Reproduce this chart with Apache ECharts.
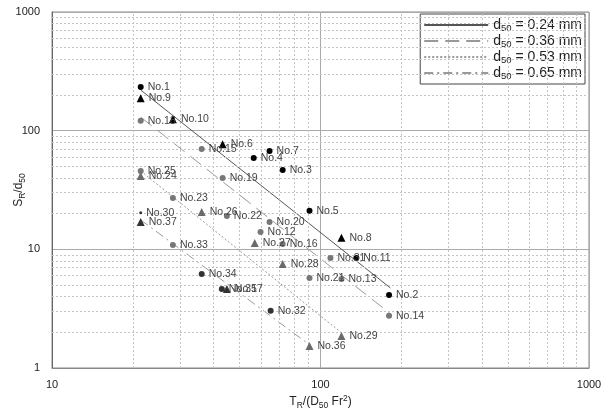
<!DOCTYPE html>
<html>
<head>
<meta charset="utf-8">
<script src="https://cdn.jsdelivr.net/npm/echarts@6/dist/echarts.min.js"></script>
<style>html,body{margin:0;padding:0;background:#fff}#c{width:603px;height:417px}</style>
</head>
<body>
<div id="c"></div>
<script>
// ---- data ----
const blackCircleNames = ['No.1','No.2','No.3','No.4','No.5','No.7','No.11'];
const blackCircleX = [21.4, 180, 72.3, 56.4, 91, 64.6, 136];
const blackCircleY = [233, 4.13, 46.7, 58.9, 21.1, 67.5, 8.47];

const blackTriNames = ['No.6','No.8','No.9','No.10'];
const blackTriX = [43.2, 119.7, 21.4, 28.2];
const blackTriY = [77, 12.5, 188, 125];

const grayCircleNames = ['No.12','No.13','No.14','No.15','No.16','No.18','No.19','No.20','No.21','No.22','No.23','No.25','No.31','No.33'];
const grayCircleX = [59.8, 119.7, 180, 36.1, 72.3, 21.4, 43.2, 64.6, 91, 44.8, 28.2, 21.4, 108.9, 28.2];
const grayCircleY = [14.0, 5.63, 2.75, 70, 11.1, 121, 39.9, 17.0, 5.74, 19.1, 27.1, 45.7, 8.47, 10.9];

const grayTriNames = ['No.24','No.26','No.27','No.28','No.29','No.36'];
const grayTriX = [21.4, 36.1, 56.9, 72.3, 119.7, 91];
const grayTriY = [41.5, 20.6, 11.3, 7.54, 1.86, 1.53];

const darkCircleNames = ['No.32','No.34','No.35'];
const darkCircleX = [65.2, 36.1, 42.9];
const darkCircleY = [3.03, 6.21, 4.63];

const darkTriNames = ['No.17','No.37'];
const darkTriX = [44.8, 21.4];
const darkTriY = [4.63, 17.0];

const dotNames = ['No.30'];
const dotX = [21.4];
const dotY = [20.3];

// fitted lines (end points)
const lineNames = ['0.24', '0.36', '0.53', '0.65'];
const lineX = [[21.4, 182], [21.4, 180.6], [21.4, 119.7], [21.4, 91]];
const lineY = [[220, 4.73], [130, 2.91], [45.7, 1.98], [17.7, 1.57]];

// axis ticks
const xMinorTicks = [20,30,40,50,60,70,80,90,200,300,400,500,600,700,800,900];
const yMinorTicks = [2,3,4,5,6,7,8,9,20,30,40,50,60,70,80,90,200,300,400,500,600,700,800,900];

// ---- chart ----
const chart = echarts.init(document.getElementById('c'), null, {renderer: 'canvas'});
const FONT = "'Liberation Sans', Arial, sans-serif";

function pts(names, xs, ys) {
  return names.map((n, i) => ({name: n, value: [xs[i], ys[i]]}));
}
const labelCfg = {show: true, position: 'right', distance: 4, formatter: '{b}',
  color: '#444', fontSize: 10.5, fontFamily: FONT};

function scatter(name, names, xs, ys, symbol, size, color) {
  return {
    type: 'scatter', name: name, data: pts(names, xs, ys),
    symbol: symbol, symbolSize: size,
    itemStyle: {color: color, opacity: 1},
    label: labelCfg, z: 5, silent: true
  };
}

const lineStyles = [
  {type: 'solid', color: '#555', width: 1},
  {type: [14, 7], color: '#999', width: 1},
  {type: [2, 2], color: '#999', width: 1},
  {type: [9, 4, 2, 4], color: '#999', width: 1}
];

const lineSeries = lineNames.map((n, i) => ({
  type: 'line', name: n,
  data: lineX[i].map((x, j) => [x, lineY[i][j]]),
  symbol: 'none', showSymbol: false,
  lineStyle: lineStyles[i], itemStyle: {color: lineStyles[i].color},
  z: 3, silent: true
}));

const gridSeries = {
  type: 'line', data: [], silent: true, z: 1,
  markLine: {
    silent: true, symbol: ['none', 'none'], label: {show: false},
    lineStyle: {color: '#c4c4c4', type: [2, 2], width: 1},
    animation: false,
    data: xMinorTicks.map(v => ({xAxis: v})).concat(yMinorTicks.map(v => ({yAxis: v})))
  }
};

const subRich = {
  a: {fontSize: 14, fontFamily: FONT, color: '#222', lineHeight: 16},
  s: {fontSize: 9.5, fontFamily: FONT, color: '#222', lineHeight: 16, padding: [6, 0, 0, 0]}
};

const nameRich = {
  a: {fontSize: 12, fontFamily: FONT, color: '#222', lineHeight: 16},
  s: {fontSize: 8.5, fontFamily: FONT, color: '#222', lineHeight: 16, padding: [7, 0, 0, 0]},
  p: {fontSize: 8.5, fontFamily: FONT, color: '#222', lineHeight: 16, padding: [0, 0, 7, 0]}
};

chart.setOption({
  animation: false,
  backgroundColor: '#fff',
  grid: {left: 52, top: 12, width: 537, height: 356, show: true, borderColor: '#888', borderWidth: 1,
         containLabel: false, outerBoundsMode: 'none'},
  xAxis: {
    type: 'log', logBase: 10, min: 10, max: 1000,
    axisLine: {show: true, lineStyle: {color: '#888'}},
    axisTick: {show: false},
    axisLabel: {color: '#222', fontSize: 11, fontFamily: FONT, margin: 11, showMinLabel: true, showMaxLabel: true,
                formatter: v => String(v)},
    splitLine: {show: true, lineStyle: {color: '#aaa', width: 1}},
    name: '{a|T}{s|R}{a|/(D}{s|50}{a| Fr}{p|2}{a|)}',
    nameLocation: 'middle', nameGap: 26, nameMoveOverlap: false,
    nameTextStyle: {rich: nameRich}
  },
  yAxis: {
    type: 'log', logBase: 10, min: 1, max: 1000,
    axisLine: {show: true, lineStyle: {color: '#666'}},
    axisTick: {show: false},
    axisLabel: {color: '#222', fontSize: 11, fontFamily: FONT, margin: 12, formatter: v => String(v)},
    splitLine: {show: true, lineStyle: {color: '#aaa', width: 1}},
    name: '{a|S}{s|R}{a|/d}{s|50}',
    nameLocation: 'middle', nameGap: 25, nameRotate: 90, nameMoveOverlap: false,
    nameTextStyle: {rich: nameRich}
  },
  legend: {
    data: lineNames,
    orient: 'vertical', right: 18, top: 14,
    backgroundColor: '#fff', borderColor: '#444', borderWidth: 1,
    padding: [3, 3, 3, 3], itemGap: 0,
    itemWidth: 64, itemHeight: 16,
    itemStyle: {opacity: 0},
    formatter: n => '{a|d}{s|50}{a| = ' + n + ' mm}',
    textStyle: {rich: subRich},
    selectedMode: false
  },
  series: [
    gridSeries,
    ...lineSeries,
    scatter('bc', blackCircleNames, blackCircleX, blackCircleY, 'circle', 6, '#000'),
    scatter('bt', blackTriNames, blackTriX, blackTriY, 'triangle', 8, '#000'),
    scatter('gc', grayCircleNames, grayCircleX, grayCircleY, 'circle', 6, '#777'),
    scatter('gt', grayTriNames, grayTriX, grayTriY, 'triangle', 8, '#6a6a6a'),
    scatter('dc', darkCircleNames, darkCircleX, darkCircleY, 'circle', 6, '#333'),
    scatter('dt', darkTriNames, darkTriX, darkTriY, 'triangle', 8, '#333'),
    scatter('dot', dotNames, dotX, dotY, 'circle', 3, '#333')
  ]
});
</script>
</body>
</html>
